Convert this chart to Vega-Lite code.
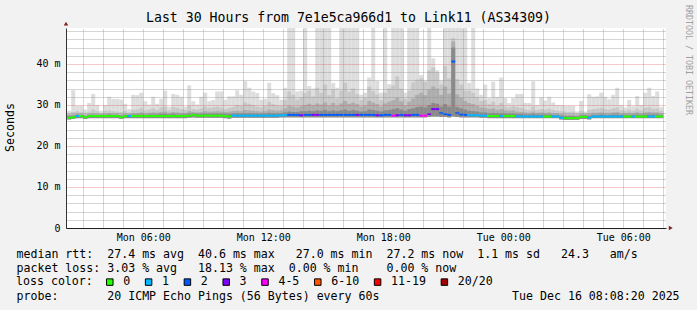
{
"$schema":"https://vega.github.io/schema/vega-lite/v6.json",
"width":600,"height":200,
"autosize":{"type":"none"},
"padding":{"left":66,"top":28,"right":31,"bottom":82},
"background":"#f2f2f2",
"view":{"fill":"#ffffff","stroke":null},
"title":{"text":"Last 30 Hours from 7e1e5ca966d1 to Link11 (AS34309)","font":"DejaVu Sans Mono","fontSize":13.2,"fontWeight":"normal","color":"#000000","anchor":"middle","frame":"bounds","offset":0,"baseline":"alphabetic","dy":30.6},
"config":{"font":"DejaVu Sans Mono","axis":{"labelFont":"DejaVu Sans Mono","titleFont":"DejaVu Sans Mono","titleFontWeight":"normal","labelColor":"#000000","titleColor":"#000000"}},
"resolve":{"axis":{"x":"independent"}},
"datasets":{
"marks":[{"t":"2025-12-15T02:08:20","v":49.85,"s":"up"},{"t":"2025-12-16T08:22:40","v":0,"s":"right"}],
"wm":[{"t":"2025-12-16T09:14:20","v":40.98,"w":"RRDTOOL / TOBI OETIKER"}],
"smoke":[
{"t":"2025-12-15T02:00","e":"2025-12-15T02:12","hi":28.6,"h2":28.0,"h3":27.7,"h4":27.5,"m":27.0,"lo":26.6,"l":"0"},
{"t":"2025-12-15T02:12","e":"2025-12-15T02:24","hi":28.6,"h2":28.0,"h3":27.6,"h4":27.4,"m":26.9,"lo":26.5,"l":"0"},
{"t":"2025-12-15T02:24","e":"2025-12-15T02:36","hi":33.6,"h2":28.3,"h3":27.7,"h4":27.4,"m":27.0,"lo":26.6,"l":"0"},
{"t":"2025-12-15T02:36","e":"2025-12-15T02:48","hi":29.8,"h2":28.5,"h3":27.9,"h4":27.6,"m":27.3,"lo":26.8,"l":"1"},
{"t":"2025-12-15T02:48","e":"2025-12-15T03:00","hi":29.8,"h2":28.3,"h3":27.8,"h4":27.6,"m":27.3,"lo":26.8,"l":"0"},
{"t":"2025-12-15T03:00","e":"2025-12-15T03:12","hi":28.9,"h2":28.1,"h3":27.6,"h4":27.3,"m":27.0,"lo":26.6,"l":"0"},
{"t":"2025-12-15T03:12","e":"2025-12-15T03:24","hi":30.5,"h2":28.4,"h3":27.8,"h4":27.6,"m":27.3,"lo":26.8,"l":"0"},
{"t":"2025-12-15T03:24","e":"2025-12-15T03:36","hi":32.7,"h2":28.9,"h3":28.0,"h4":27.6,"m":27.3,"lo":26.8,"l":"0"},
{"t":"2025-12-15T03:36","e":"2025-12-15T03:48","hi":30.0,"h2":28.5,"h3":27.9,"h4":27.6,"m":27.3,"lo":26.8,"l":"0"},
{"t":"2025-12-15T03:48","e":"2025-12-15T04:00","hi":28.6,"h2":28.1,"h3":27.8,"h4":27.6,"m":27.3,"lo":26.8,"l":"0"},
{"t":"2025-12-15T04:00","e":"2025-12-15T04:12","hi":30.0,"h2":28.6,"h3":27.9,"h4":27.6,"m":27.3,"lo":26.8,"l":"0"},
{"t":"2025-12-15T04:12","e":"2025-12-15T04:24","hi":32.0,"h2":28.7,"h3":28.0,"h4":27.7,"m":27.3,"lo":26.8,"l":"0"},
{"t":"2025-12-15T04:24","e":"2025-12-15T04:36","hi":31.5,"h2":28.5,"h3":27.9,"h4":27.6,"m":27.3,"lo":26.8,"l":"0"},
{"t":"2025-12-15T04:36","e":"2025-12-15T04:48","hi":31.5,"h2":28.4,"h3":27.9,"h4":27.6,"m":27.3,"lo":26.8,"l":"0"},
{"t":"2025-12-15T04:48","e":"2025-12-15T05:00","hi":31.3,"h2":28.3,"h3":27.7,"h4":27.4,"m":27.0,"lo":26.6,"l":"0"},
{"t":"2025-12-15T05:00","e":"2025-12-15T05:12","hi":30.3,"h2":28.6,"h3":27.9,"h4":27.6,"m":27.3,"lo":26.8,"l":"0"},
{"t":"2025-12-15T05:12","e":"2025-12-15T05:24","hi":29.0,"h2":28.2,"h3":27.8,"h4":27.6,"m":27.3,"lo":26.8,"l":"1"},
{"t":"2025-12-15T05:24","e":"2025-12-15T05:36","hi":32.5,"h2":28.8,"h3":28.0,"h4":27.7,"m":27.3,"lo":26.8,"l":"0"},
{"t":"2025-12-15T05:36","e":"2025-12-15T05:48","hi":32.4,"h2":28.9,"h3":28.0,"h4":27.7,"m":27.3,"lo":26.8,"l":"0"},
{"t":"2025-12-15T05:48","e":"2025-12-15T06:00","hi":33.0,"h2":29.3,"h3":28.2,"h4":27.7,"m":27.3,"lo":26.8,"l":"0"},
{"t":"2025-12-15T06:00","e":"2025-12-15T06:12","hi":30.9,"h2":28.7,"h3":28.0,"h4":27.6,"m":27.3,"lo":26.8,"l":"0"},
{"t":"2025-12-15T06:12","e":"2025-12-15T06:24","hi":30.1,"h2":28.9,"h3":28.1,"h4":27.7,"m":27.3,"lo":26.8,"l":"0"},
{"t":"2025-12-15T06:24","e":"2025-12-15T06:36","hi":32.0,"h2":29.2,"h3":28.2,"h4":27.7,"m":27.3,"lo":26.8,"l":"0"},
{"t":"2025-12-15T06:36","e":"2025-12-15T06:48","hi":30.3,"h2":28.8,"h3":28.1,"h4":27.7,"m":27.3,"lo":26.8,"l":"0"},
{"t":"2025-12-15T06:48","e":"2025-12-15T07:00","hi":31.5,"h2":29.4,"h3":28.3,"h4":27.8,"m":27.3,"lo":26.8,"l":"0"},
{"t":"2025-12-15T07:00","e":"2025-12-15T07:12","hi":33.5,"h2":29.6,"h3":28.4,"h4":27.8,"m":27.3,"lo":26.8,"l":"0"},
{"t":"2025-12-15T07:12","e":"2025-12-15T07:24","hi":29.6,"h2":28.7,"h3":28.1,"h4":27.7,"m":27.3,"lo":26.8,"l":"0"},
{"t":"2025-12-15T07:24","e":"2025-12-15T07:36","hi":32.7,"h2":29.5,"h3":28.3,"h4":27.8,"m":27.3,"lo":26.8,"l":"0"},
{"t":"2025-12-15T07:36","e":"2025-12-15T07:48","hi":32.5,"h2":29.3,"h3":28.2,"h4":27.7,"m":27.3,"lo":26.8,"l":"0"},
{"t":"2025-12-15T07:48","e":"2025-12-15T08:00","hi":32.0,"h2":29.0,"h3":28.1,"h4":27.7,"m":27.3,"lo":26.8,"l":"0"},
{"t":"2025-12-15T08:00","e":"2025-12-15T08:12","hi":29.6,"h2":28.8,"h3":28.1,"h4":27.7,"m":27.3,"lo":26.8,"l":"0"},
{"t":"2025-12-15T08:12","e":"2025-12-15T08:24","hi":34.8,"h2":29.8,"h3":28.5,"h4":27.9,"m":27.4,"lo":26.9,"l":"0"},
{"t":"2025-12-15T08:24","e":"2025-12-15T08:36","hi":30.9,"h2":29.0,"h3":28.3,"h4":27.9,"m":27.6,"lo":27.0,"l":"0"},
{"t":"2025-12-15T08:36","e":"2025-12-15T08:48","hi":30.1,"h2":28.9,"h3":28.2,"h4":27.8,"m":27.4,"lo":26.9,"l":"0"},
{"t":"2025-12-15T08:48","e":"2025-12-15T09:00","hi":32.0,"h2":29.2,"h3":28.3,"h4":27.8,"m":27.4,"lo":26.9,"l":"0"},
{"t":"2025-12-15T09:00","e":"2025-12-15T09:12","hi":33.0,"h2":29.6,"h3":28.5,"h4":27.9,"m":27.4,"lo":26.9,"l":"0"},
{"t":"2025-12-15T09:12","e":"2025-12-15T09:24","hi":30.9,"h2":29.3,"h3":28.4,"h4":27.9,"m":27.4,"lo":26.9,"l":"0"},
{"t":"2025-12-15T09:24","e":"2025-12-15T09:36","hi":31.2,"h2":29.4,"h3":28.4,"h4":27.9,"m":27.4,"lo":26.9,"l":"0"},
{"t":"2025-12-15T09:36","e":"2025-12-15T09:48","hi":33.3,"h2":29.6,"h3":28.5,"h4":27.9,"m":27.4,"lo":26.9,"l":"0"},
{"t":"2025-12-15T09:48","e":"2025-12-15T10:00","hi":33.3,"h2":29.4,"h3":28.4,"h4":27.9,"m":27.4,"lo":26.9,"l":"0"},
{"t":"2025-12-15T10:00","e":"2025-12-15T10:12","hi":31.3,"h2":29.0,"h3":28.3,"h4":27.8,"m":27.3,"lo":26.8,"l":"0"},
{"t":"2025-12-15T10:12","e":"2025-12-15T10:24","hi":32.1,"h2":29.3,"h3":28.4,"h4":27.8,"m":27.2,"lo":26.7,"l":"0"},
{"t":"2025-12-15T10:24","e":"2025-12-15T10:36","hi":32.1,"h2":29.5,"h3":28.5,"h4":27.9,"m":27.4,"lo":26.9,"l":"1"},
{"t":"2025-12-15T10:36","e":"2025-12-15T10:48","hi":33.6,"h2":30.0,"h3":28.6,"h4":28.0,"m":27.4,"lo":26.9,"l":"1"},
{"t":"2025-12-15T10:48","e":"2025-12-15T11:00","hi":32.5,"h2":29.8,"h3":28.5,"h4":27.9,"m":27.4,"lo":26.9,"l":"1"},
{"t":"2025-12-15T11:00","e":"2025-12-15T11:12","hi":35.8,"h2":30.6,"h3":28.8,"h4":28.0,"m":27.4,"lo":26.9,"l":"1"},
{"t":"2025-12-15T11:12","e":"2025-12-15T11:24","hi":34.2,"h2":30.3,"h3":28.7,"h4":28.0,"m":27.4,"lo":26.9,"l":"1"},
{"t":"2025-12-15T11:24","e":"2025-12-15T11:36","hi":33.3,"h2":30.0,"h3":28.6,"h4":27.9,"m":27.4,"lo":26.9,"l":"1"},
{"t":"2025-12-15T11:36","e":"2025-12-15T11:48","hi":32.9,"h2":29.6,"h3":28.5,"h4":27.9,"m":27.4,"lo":26.9,"l":"1"},
{"t":"2025-12-15T11:48","e":"2025-12-15T12:00","hi":31.3,"h2":29.4,"h3":28.4,"h4":27.9,"m":27.4,"lo":26.9,"l":"1"},
{"t":"2025-12-15T12:00","e":"2025-12-15T12:12","hi":31.5,"h2":29.7,"h3":28.5,"h4":27.9,"m":27.4,"lo":26.9,"l":"1"},
{"t":"2025-12-15T12:12","e":"2025-12-15T12:24","hi":35.4,"h2":30.8,"h3":28.9,"h4":28.1,"m":27.4,"lo":26.9,"l":"1"},
{"t":"2025-12-15T12:24","e":"2025-12-15T12:36","hi":32.9,"h2":30.2,"h3":28.7,"h4":28.0,"m":27.4,"lo":26.9,"l":"1"},
{"t":"2025-12-15T12:36","e":"2025-12-15T12:48","hi":32.4,"h2":29.9,"h3":28.6,"h4":28.0,"m":27.4,"lo":26.9,"l":"1"},
{"t":"2025-12-15T12:48","e":"2025-12-15T13:00","hi":31.3,"h2":29.8,"h3":28.7,"h4":28.0,"m":27.5,"lo":27.0,"l":"1"},
{"t":"2025-12-15T13:00","e":"2025-12-15T13:12","hi":34.2,"h2":31.2,"h3":29.2,"h4":28.2,"m":27.5,"lo":27.0,"l":"1"},
{"t":"2025-12-15T13:12","e":"2025-12-15T13:24","hi":52,"h2":33.3,"h3":29.8,"h4":28.4,"m":27.6,"lo":27.0,"l":"2"},
{"t":"2025-12-15T13:24","e":"2025-12-15T13:36","hi":52,"h2":32.5,"h3":29.6,"h4":28.3,"m":27.6,"lo":27.0,"l":"2"},
{"t":"2025-12-15T13:36","e":"2025-12-15T13:48","hi":33.3,"h2":31.3,"h3":29.4,"h4":28.3,"m":27.6,"lo":27.0,"l":"2"},
{"t":"2025-12-15T13:48","e":"2025-12-15T14:00","hi":33.5,"h2":31.9,"h3":29.7,"h4":28.5,"m":27.5,"lo":27.0,"l":"3"},
{"t":"2025-12-15T14:00","e":"2025-12-15T14:12","hi":52,"h2":32.9,"h3":30.0,"h4":28.5,"m":27.6,"lo":27.0,"l":"2"},
{"t":"2025-12-15T14:12","e":"2025-12-15T14:24","hi":34.6,"h2":33.5,"h3":30.3,"h4":28.6,"m":27.6,"lo":27.0,"l":"2"},
{"t":"2025-12-15T14:24","e":"2025-12-15T14:36","hi":34.0,"h2":32.1,"h3":29.9,"h4":28.5,"m":27.6,"lo":27.0,"l":"3"},
{"t":"2025-12-15T14:36","e":"2025-12-15T14:48","hi":52,"h2":34.2,"h3":30.4,"h4":28.7,"m":27.6,"lo":27.0,"l":"3"},
{"t":"2025-12-15T14:48","e":"2025-12-15T15:00","hi":52,"h2":33.0,"h3":30.1,"h4":28.6,"m":27.6,"lo":27.0,"l":"2"},
{"t":"2025-12-15T15:00","e":"2025-12-15T15:12","hi":52,"h2":35.0,"h3":30.6,"h4":28.8,"m":27.6,"lo":27.0,"l":"2"},
{"t":"2025-12-15T15:12","e":"2025-12-15T15:24","hi":52,"h2":32.4,"h3":29.9,"h4":28.5,"m":27.6,"lo":27.0,"l":"2"},
{"t":"2025-12-15T15:24","e":"2025-12-15T15:36","hi":35.4,"h2":33.8,"h3":30.5,"h4":28.7,"m":27.6,"lo":27.0,"l":"2"},
{"t":"2025-12-15T15:36","e":"2025-12-15T15:48","hi":34.2,"h2":31.6,"h3":29.8,"h4":28.5,"m":27.6,"lo":27.0,"l":"2"},
{"t":"2025-12-15T15:48","e":"2025-12-15T16:00","hi":52,"h2":33.5,"h3":30.4,"h4":28.7,"m":27.6,"lo":27.0,"l":"2"},
{"t":"2025-12-15T16:00","e":"2025-12-15T16:12","hi":52,"h2":35.4,"h3":31.0,"h4":28.9,"m":27.6,"lo":27.0,"l":"2"},
{"t":"2025-12-15T16:12","e":"2025-12-15T16:24","hi":52,"h2":33.2,"h3":30.3,"h4":28.6,"m":27.6,"lo":27.0,"l":"2"},
{"t":"2025-12-15T16:24","e":"2025-12-15T16:36","hi":52,"h2":34.0,"h3":30.6,"h4":28.8,"m":27.6,"lo":27.0,"l":"2"},
{"t":"2025-12-15T16:36","e":"2025-12-15T16:48","hi":52,"h2":32.7,"h3":30.2,"h4":28.6,"m":27.6,"lo":27.0,"l":"3"},
{"t":"2025-12-15T16:48","e":"2025-12-15T17:00","hi":32.5,"h2":31.2,"h3":29.6,"h4":28.4,"m":27.6,"lo":27.0,"l":"2"},
{"t":"2025-12-15T17:00","e":"2025-12-15T17:12","hi":33.0,"h2":31.8,"h3":29.9,"h4":28.5,"m":27.6,"lo":27.0,"l":"2"},
{"t":"2025-12-15T17:12","e":"2025-12-15T17:24","hi":36.7,"h2":34.5,"h3":31.0,"h4":28.9,"m":27.6,"lo":27.0,"l":"2"},
{"t":"2025-12-15T17:24","e":"2025-12-15T17:36","hi":52,"h2":33.4,"h3":30.6,"h4":28.8,"m":27.6,"lo":27.0,"l":"2"},
{"t":"2025-12-15T17:36","e":"2025-12-15T17:48","hi":35.9,"h2":32.6,"h3":30.2,"h4":28.6,"m":27.5,"lo":27.0,"l":"3"},
{"t":"2025-12-15T17:48","e":"2025-12-15T18:00","hi":33.0,"h2":31.2,"h3":29.6,"h4":28.4,"m":27.5,"lo":27.0,"l":"2"},
{"t":"2025-12-15T18:00","e":"2025-12-15T18:12","hi":52,"h2":33.0,"h3":30.4,"h4":28.7,"m":27.6,"lo":27.0,"l":"2"},
{"t":"2025-12-15T18:12","e":"2025-12-15T18:24","hi":35.1,"h2":34.0,"h3":30.8,"h4":28.8,"m":27.6,"lo":27.0,"l":"2"},
{"t":"2025-12-15T18:24","e":"2025-12-15T18:36","hi":52,"h2":34.8,"h3":31.2,"h4":29.0,"m":27.4,"lo":27.0,"l":"4-5"},
{"t":"2025-12-15T18:36","e":"2025-12-15T18:48","hi":52,"h2":37.0,"h3":31.8,"h4":29.2,"m":27.5,"lo":27.0,"l":"3"},
{"t":"2025-12-15T18:48","e":"2025-12-15T19:00","hi":52,"h2":34.0,"h3":30.9,"h4":28.9,"m":27.6,"lo":27.0,"l":"2"},
{"t":"2025-12-15T19:00","e":"2025-12-15T19:12","hi":33.0,"h2":31.5,"h3":29.9,"h4":28.6,"m":27.5,"lo":27.0,"l":"3"},
{"t":"2025-12-15T19:12","e":"2025-12-15T19:24","hi":52,"h2":33.5,"h3":30.8,"h4":29.0,"m":27.5,"lo":27.0,"l":"3"},
{"t":"2025-12-15T19:24","e":"2025-12-15T19:36","hi":52,"h2":35.5,"h3":31.6,"h4":29.2,"m":27.6,"lo":27.0,"l":"2"},
{"t":"2025-12-15T19:36","e":"2025-12-15T19:48","hi":52,"h2":36.2,"h3":32.5,"h4":29.5,"m":27.6,"lo":27.0,"l":"2"},
{"t":"2025-12-15T19:48","e":"2025-12-15T20:00","hi":37.3,"h2":36.5,"h3":33.0,"h4":29.6,"m":27.4,"lo":27.0,"l":"4-5"},
{"t":"2025-12-15T20:00","e":"2025-12-15T20:12","hi":36.0,"h2":35.6,"h3":32.4,"h4":29.4,"m":27.4,"lo":27.0,"l":"4-5"},
{"t":"2025-12-15T20:12","e":"2025-12-15T20:24","hi":52,"h2":38.5,"h3":33.8,"h4":30.0,"m":27.8,"lo":27.1,"l":"3"},
{"t":"2025-12-15T20:24","e":"2025-12-15T20:36","hi":41.4,"h2":39.2,"h3":34.5,"h4":30.5,"m":29.0,"lo":27.2,"l":"3"},
{"t":"2025-12-15T20:36","e":"2025-12-15T20:48","hi":38.5,"h2":38.0,"h3":34.0,"h4":30.3,"m":29.0,"lo":27.2,"l":"3"},
{"t":"2025-12-15T20:48","e":"2025-12-15T21:00","hi":36.0,"h2":35.0,"h3":32.5,"h4":29.6,"m":28.0,"lo":27.1,"l":"2"},
{"t":"2025-12-15T21:00","e":"2025-12-15T21:12","hi":52,"h2":39.5,"h3":34.5,"h4":30.2,"m":27.8,"lo":27.1,"l":"2"},
{"t":"2025-12-15T21:12","e":"2025-12-15T21:24","hi":52,"h2":36.5,"h3":32.8,"h4":29.6,"m":27.6,"lo":27.0,"l":"2"},
{"t":"2025-12-15T21:24","e":"2025-12-15T21:36","hi":52,"h2":46.3,"h3":45.5,"h4":44.0,"m":40.6,"lo":27.2,"l":"2"},
{"t":"2025-12-15T21:36","e":"2025-12-15T21:48","hi":52,"h2":36.3,"h3":32.6,"h4":29.5,"m":28.0,"lo":27.1,"l":"2"},
{"t":"2025-12-15T21:48","e":"2025-12-15T22:00","hi":52,"h2":35.0,"h3":31.8,"h4":29.2,"m":27.7,"lo":27.0,"l":"2"},
{"t":"2025-12-15T22:00","e":"2025-12-15T22:12","hi":52,"h2":33.5,"h3":31.0,"h4":28.9,"m":27.6,"lo":27.0,"l":"2"},
{"t":"2025-12-15T22:12","e":"2025-12-15T22:24","hi":35.4,"h2":33.5,"h3":30.5,"h4":28.6,"m":27.5,"lo":27.0,"l":"1"},
{"t":"2025-12-15T22:24","e":"2025-12-15T22:36","hi":52,"h2":33.0,"h3":30.2,"h4":28.5,"m":27.5,"lo":27.0,"l":"1"},
{"t":"2025-12-15T22:36","e":"2025-12-15T22:48","hi":34.0,"h2":32.0,"h3":29.8,"h4":28.4,"m":27.5,"lo":27.0,"l":"1"},
{"t":"2025-12-15T22:48","e":"2025-12-15T23:00","hi":32.5,"h2":31.0,"h3":29.4,"h4":28.2,"m":27.4,"lo":26.9,"l":"1"},
{"t":"2025-12-15T23:00","e":"2025-12-15T23:12","hi":35.0,"h2":31.2,"h3":29.3,"h4":28.2,"m":27.4,"lo":26.9,"l":"1"},
{"t":"2025-12-15T23:12","e":"2025-12-15T23:24","hi":31.7,"h2":30.2,"h3":29.0,"h4":28.0,"m":27.3,"lo":26.8,"l":"0"},
{"t":"2025-12-15T23:24","e":"2025-12-15T23:36","hi":35.7,"h2":30.8,"h3":29.2,"h4":28.1,"m":27.3,"lo":26.8,"l":"0"},
{"t":"2025-12-15T23:36","e":"2025-12-15T23:48","hi":32.0,"h2":29.8,"h3":28.8,"h4":28.0,"m":27.3,"lo":26.8,"l":"0"},
{"t":"2025-12-15T23:48","e":"2025-12-16T00:00","hi":36.7,"h2":30.5,"h3":29.0,"h4":28.0,"m":27.3,"lo":26.8,"l":"1"},
{"t":"2025-12-16T00:00","e":"2025-12-16T00:12","hi":31.7,"h2":29.6,"h3":28.7,"h4":27.9,"m":27.3,"lo":26.8,"l":"0"},
{"t":"2025-12-16T00:12","e":"2025-12-16T00:24","hi":30.5,"h2":29.4,"h3":28.6,"h4":27.9,"m":27.3,"lo":26.8,"l":"0"},
{"t":"2025-12-16T00:24","e":"2025-12-16T00:36","hi":31.7,"h2":29.7,"h3":28.7,"h4":27.9,"m":27.3,"lo":26.8,"l":"0"},
{"t":"2025-12-16T00:36","e":"2025-12-16T00:48","hi":32.7,"h2":29.5,"h3":28.4,"h4":27.8,"m":27.2,"lo":26.8,"l":"1"},
{"t":"2025-12-16T00:48","e":"2025-12-16T01:00","hi":32.7,"h2":29.3,"h3":28.3,"h4":27.8,"m":27.2,"lo":26.8,"l":"1"},
{"t":"2025-12-16T01:00","e":"2025-12-16T01:12","hi":30.5,"h2":28.9,"h3":28.2,"h4":27.7,"m":27.2,"lo":26.8,"l":"1"},
{"t":"2025-12-16T01:12","e":"2025-12-16T01:24","hi":30.5,"h2":28.8,"h3":28.1,"h4":27.7,"m":27.2,"lo":26.8,"l":"1"},
{"t":"2025-12-16T01:24","e":"2025-12-16T01:36","hi":35.8,"h2":29.6,"h3":28.4,"h4":27.8,"m":27.2,"lo":26.8,"l":"1"},
{"t":"2025-12-16T01:36","e":"2025-12-16T01:48","hi":30.0,"h2":28.8,"h3":28.1,"h4":27.7,"m":27.2,"lo":26.8,"l":"1"},
{"t":"2025-12-16T01:48","e":"2025-12-16T02:00","hi":31.9,"h2":29.0,"h3":28.2,"h4":27.7,"m":27.2,"lo":26.8,"l":"1"},
{"t":"2025-12-16T02:00","e":"2025-12-16T02:12","hi":31.1,"h2":28.9,"h3":28.1,"h4":27.7,"m":27.2,"lo":26.8,"l":"0"},
{"t":"2025-12-16T02:12","e":"2025-12-16T02:24","hi":32.0,"h2":29.1,"h3":28.2,"h4":27.7,"m":27.2,"lo":26.8,"l":"0"},
{"t":"2025-12-16T02:24","e":"2025-12-16T02:36","hi":30.6,"h2":28.8,"h3":28.0,"h4":27.6,"m":27.2,"lo":26.8,"l":"1"},
{"t":"2025-12-16T02:36","e":"2025-12-16T02:48","hi":30.0,"h2":28.6,"h3":28.0,"h4":27.6,"m":27.2,"lo":26.8,"l":"1"},
{"t":"2025-12-16T02:48","e":"2025-12-16T03:00","hi":30.0,"h2":28.5,"h3":27.8,"h4":27.4,"m":26.9,"lo":26.5,"l":"1"},
{"t":"2025-12-16T03:00","e":"2025-12-16T03:12","hi":29.8,"h2":28.4,"h3":27.7,"h4":27.3,"m":26.8,"lo":26.4,"l":"0"},
{"t":"2025-12-16T03:12","e":"2025-12-16T03:24","hi":29.8,"h2":28.3,"h3":27.7,"h4":27.3,"m":26.8,"lo":26.4,"l":"0"},
{"t":"2025-12-16T03:24","e":"2025-12-16T03:36","hi":29.8,"h2":28.4,"h3":27.7,"h4":27.3,"m":26.8,"lo":26.4,"l":"0"},
{"t":"2025-12-16T03:36","e":"2025-12-16T03:48","hi":28.4,"h2":28.0,"h3":27.6,"h4":27.2,"m":26.8,"lo":26.4,"l":"0"},
{"t":"2025-12-16T03:48","e":"2025-12-16T04:00","hi":31.0,"h2":28.6,"h3":27.9,"h4":27.5,"m":27.1,"lo":26.6,"l":"0"},
{"t":"2025-12-16T04:00","e":"2025-12-16T04:12","hi":28.4,"h2":28.1,"h3":27.8,"h4":27.5,"m":27.1,"lo":26.6,"l":"0"},
{"t":"2025-12-16T04:12","e":"2025-12-16T04:24","hi":32.6,"h2":28.8,"h3":27.9,"h4":27.4,"m":26.9,"lo":26.5,"l":"1"},
{"t":"2025-12-16T04:24","e":"2025-12-16T04:36","hi":32.0,"h2":29.0,"h3":28.1,"h4":27.6,"m":27.2,"lo":26.8,"l":"1"},
{"t":"2025-12-16T04:36","e":"2025-12-16T04:48","hi":32.1,"h2":29.1,"h3":28.1,"h4":27.6,"m":27.2,"lo":26.8,"l":"1"},
{"t":"2025-12-16T04:48","e":"2025-12-16T05:00","hi":33.0,"h2":29.3,"h3":28.2,"h4":27.7,"m":27.2,"lo":26.8,"l":"1"},
{"t":"2025-12-16T05:00","e":"2025-12-16T05:12","hi":32.0,"h2":29.0,"h3":28.1,"h4":27.6,"m":27.2,"lo":26.8,"l":"1"},
{"t":"2025-12-16T05:12","e":"2025-12-16T05:24","hi":31.4,"h2":28.9,"h3":28.1,"h4":27.6,"m":27.2,"lo":26.8,"l":"1"},
{"t":"2025-12-16T05:24","e":"2025-12-16T05:36","hi":32.5,"h2":29.2,"h3":28.2,"h4":27.7,"m":27.2,"lo":26.8,"l":"1"},
{"t":"2025-12-16T05:36","e":"2025-12-16T05:48","hi":34.2,"h2":29.4,"h3":28.3,"h4":27.7,"m":27.2,"lo":26.8,"l":"1"},
{"t":"2025-12-16T05:48","e":"2025-12-16T06:00","hi":30.0,"h2":28.7,"h3":28.0,"h4":27.6,"m":27.2,"lo":26.8,"l":"1"},
{"t":"2025-12-16T06:00","e":"2025-12-16T06:12","hi":29.4,"h2":28.6,"h3":28.0,"h4":27.6,"m":27.2,"lo":26.8,"l":"0"},
{"t":"2025-12-16T06:12","e":"2025-12-16T06:24","hi":31.2,"h2":28.9,"h3":28.1,"h4":27.6,"m":27.2,"lo":26.8,"l":"0"},
{"t":"2025-12-16T06:24","e":"2025-12-16T06:36","hi":29.7,"h2":28.6,"h3":28.0,"h4":27.6,"m":27.2,"lo":26.8,"l":"1"},
{"t":"2025-12-16T06:36","e":"2025-12-16T06:48","hi":32.2,"h2":29.1,"h3":28.2,"h4":27.7,"m":27.2,"lo":26.8,"l":"0"},
{"t":"2025-12-16T06:48","e":"2025-12-16T07:00","hi":30.0,"h2":28.7,"h3":28.0,"h4":27.6,"m":27.2,"lo":26.8,"l":"0"},
{"t":"2025-12-16T07:00","e":"2025-12-16T07:12","hi":33.0,"h2":29.3,"h3":28.2,"h4":27.7,"m":27.2,"lo":26.8,"l":"0"},
{"t":"2025-12-16T07:12","e":"2025-12-16T07:24","hi":34.2,"h2":29.5,"h3":28.3,"h4":27.7,"m":27.2,"lo":26.8,"l":"1"},
{"t":"2025-12-16T07:24","e":"2025-12-16T07:36","hi":32.2,"h2":29.1,"h3":28.2,"h4":27.7,"m":27.2,"lo":26.8,"l":"1"},
{"t":"2025-12-16T07:36","e":"2025-12-16T07:48","hi":33.3,"h2":29.2,"h3":28.2,"h4":27.7,"m":27.2,"lo":26.8,"l":"0"},
{"t":"2025-12-16T07:48","e":"2025-12-16T08:00","hi":29.5,"h2":28.6,"h3":28.0,"h4":27.6,"m":27.2,"lo":26.8,"l":"0"}
]},
"layer":[
{"data":{"name":"smoke"},"mark":{"type":"rect","color":"#dddddd","clip":true},
 "encoding":{
  "x":{"field":"t","type":"temporal",
   "scale":{"domain":[{"year":2025,"month":12,"date":15,"hours":2,"minutes":8,"seconds":20},{"year":2025,"month":12,"date":16,"hours":8,"minutes":8,"seconds":20}]},
   "axis":{"tickCount":10,"grid":false,
    "ticks":false,"tickSize":0,
    "domain":true,"domainColor":"#1f1f1f","domainWidth":1,
    "labelExpr":"hours(datum.value) % 6 === 0 ? timeFormat(datum.value, '%a %H:%M') : ''",
    "labelFontSize":10,"labelPadding":4.5,"labelOverlap":false,"labelFlush":false,
    "title":["median rtt:\u00a0\u00a027.4 ms avg\u00a0\u00a040.6 ms max\u00a0\u00a0\u00a027.0 ms min\u00a0\u00a027.2 ms now\u00a0\u00a01.1 ms sd\u00a0\u00a0\u00a024.3\u00a0\u00a0\u00a0am/s","packet loss:\u00a03.03 % avg\u00a0\u00a0\u00a018.13 % max\u00a0\u00a00.00 % min\u00a0\u00a0\u00a0\u00a00.00 % now","\u200b","probe:\u00a0\u00a0\u00a0\u00a0\u00a0\u00a0\u00a020 ICMP Echo Pings (56 Bytes) every 60s\u00a0\u00a0\u00a0\u00a0\u00a0\u00a0\u00a0\u00a0\u00a0\u00a0\u00a0\u00a0\u00a0\u00a0\u00a0\u00a0\u00a0\u00a0\u00a0Tue Dec 16 08:08:20 2025"],
    "titleFontSize":11.6,"titleAlign":"left","titleAnchor":"start","titleBaseline":"alphabetic","titleLineHeight":13.8,
    "titleX":-50,"titleY":29.8,"zindex":2}},
  "x2":{"field":"e"},
  "y":{"field":"lo","type":"quantitative","scale":{"domain":[0,48.78],"nice":false},
   "axis":{"tickCount":25,
    "grid":true,
    "gridColor":{"condition":{"test":"datum.value % 10 === 0","value":"rgba(222,79,79,0.6)"},"value":"rgba(143,143,143,0.75)"},
    "gridDash":[1,1],"gridWidth":1,"ticks":false,"tickSize":0,
    "domain":true,"domainColor":"#333333","domainWidth":1,
    "labelExpr":"datum.value % 10 === 0 ? (datum.value === 0 ? '0\u00a0\u00a0' : datum.value + ' m') : ''",
    "labelFontSize":10,"labelPadding":6,"labelOverlap":false,"labelFlush":false,
    "title":"Seconds","titleFontSize":11.6,"titleAngle":270,"titleX":-56,"titleY":99,"titleAlign":"center","titleBaseline":"middle","zindex":1}},
  "y2":{"field":"hi"}}},
{"data":{"name":"smoke"},"mark":{"type":"rect","color":"#c8c8c8","clip":true},
 "encoding":{"x":{"field":"t","type":"temporal",
   "axis":{"orient":"top","tickCount":30,"grid":true,
    "gridColor":{"condition":{"test":"hours(datum.value) % 3 === 0","value":"rgba(222,79,79,0.6)"},"value":"rgba(143,143,143,0.75)"},
    "gridDash":[1,1],"gridWidth":1,"labels":false,"ticks":false,"domain":false,"title":null,"zindex":1}},
  "x2":{"field":"e"},"y":{"field":"lo","type":"quantitative"},"y2":{"field":"h2"}}},
{"data":{"name":"smoke"},"mark":{"type":"rect","color":"#adadad","clip":true},
 "encoding":{"x":{"field":"t","type":"temporal","axis":null},"x2":{"field":"e"},"y":{"field":"lo","type":"quantitative"},"y2":{"field":"h3"}}},
{"data":{"name":"smoke"},"mark":{"type":"rect","color":"#8a8a8a","clip":true},
 "encoding":{"x":{"field":"t","type":"temporal","axis":null},"x2":{"field":"e"},"y":{"field":"lo","type":"quantitative"},"y2":{"field":"h4"}}},
{"data":{"name":"smoke"},"mark":{"type":"rect","height":2,"clip":true},
 "encoding":{"x":{"field":"t","type":"temporal","axis":null},"x2":{"field":"e"},"y":{"field":"m","type":"quantitative"},
  "color":{"field":"l","type":"nominal",
   "scale":{"domain":["0","1","2","3","4-5","6-10","11-19","20/20"],"range":["#26ff00","#00b8ff","#0059ff","#7e00ff","#ff00ff","#ff5500","#ff0000","#a10000"]},
   "legend":{"orient":"none","legendX":-50,"legendY":248,"direction":"horizontal",
    "title":"loss color:","titleOrient":"left","titleFontSize":11.6,"titleFontWeight":"normal","titleColor":"#000000","titlePadding":11,
    "labelFontSize":11.6,"labelColor":"#000000","labelOffset":7.6,
    "columnPadding":11.8,"symbolType":"square","symbolSize":42,"symbolStrokeWidth":1,"symbolStrokeColor":"#000000","symbolOpacity":1}}}},
{"data":{"name":"wm"},
 "mark":{"type":"text","angle":90,"fontSize":8.3,"color":"#a0a0a0","align":"center","baseline":"middle"},
 "encoding":{"x":{"field":"t","type":"temporal","axis":null},"y":{"field":"v","type":"quantitative"},"text":{"field":"w"}}},
{"data":{"name":"marks"},
 "mark":{"type":"point","filled":true,"size":20,"color":"#7f1f1f","opacity":1},
 "encoding":{"x":{"field":"t","type":"temporal","axis":null},"y":{"field":"v","type":"quantitative"},
  "shape":{"field":"s","type":"nominal","scale":{"domain":["up","right"],"range":["triangle-up","triangle-right"]},"legend":null}}}
]
}
